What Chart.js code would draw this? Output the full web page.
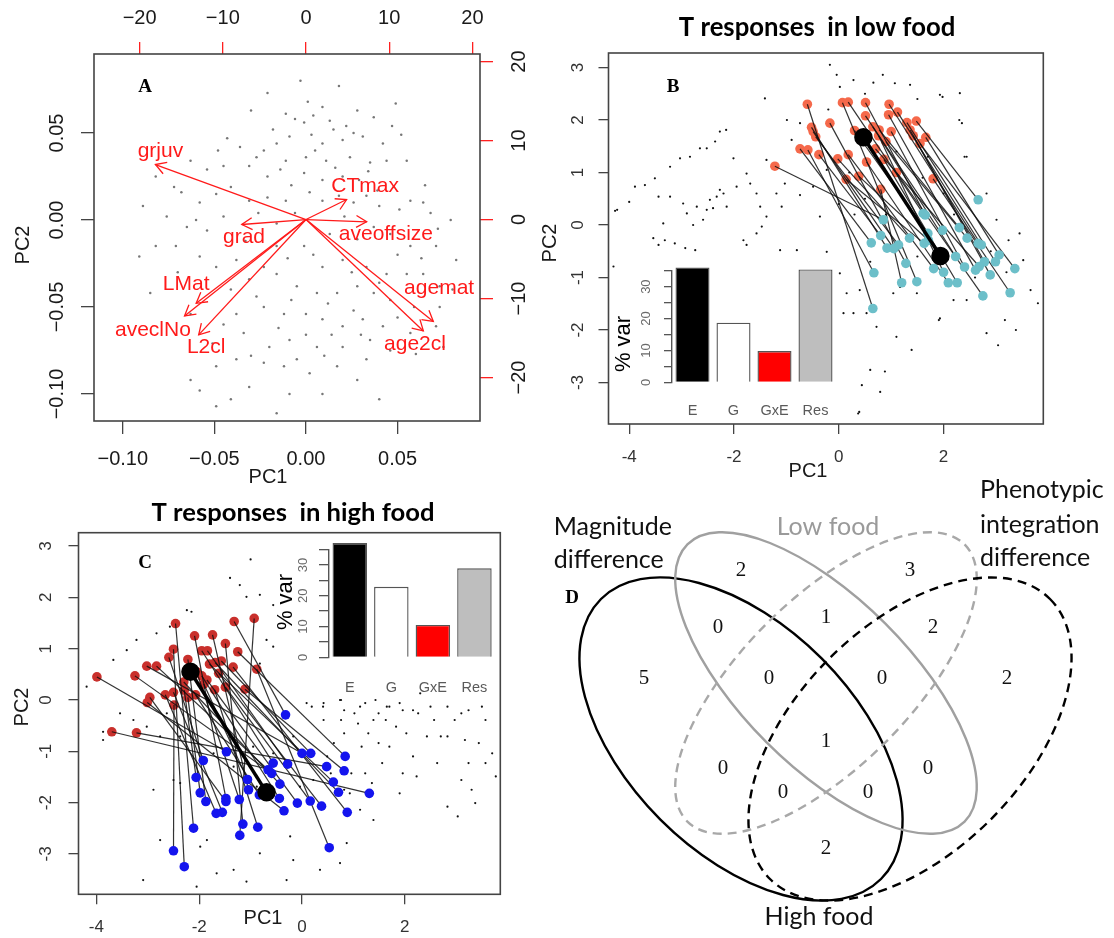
<!DOCTYPE html>
<html>
<head>
<meta charset="utf-8">
<script src="https://cdn.jsdelivr.net/npm/chart.js@4.4.1/dist/chart.umd.min.js"></script>
<style>
  body { margin: 0; background: #fff; width: 1114px; height: 938px; position: relative; overflow: hidden; }
  canvas { position: absolute; }
</style>
</head>
<body>
<canvas id="pa" width="540" height="490" style="left:0px;top:0px"></canvas>
<canvas id="pb" width="574" height="490" style="left:540px;top:0px"></canvas>
<canvas id="pc" width="540" height="448" style="left:0px;top:490px"></canvas>
<canvas id="pd" width="574" height="468" style="left:540px;top:470px"></canvas>
<canvas id="ib" width="250" height="190" style="left:600px;top:240px"></canvas>
<canvas id="ic" width="260" height="180" style="left:250px;top:520px"></canvas>
<script>
'use strict'

// ---------- data ----------
// panel A: PC scores (bottom/left axes) and loadings (top/right axes)
const scoresA = [[-0.003,0.080],[0.018,0.077],[0.001,0.068],[0.009,0.065],[0.028,0.063],[0.049,0.067],[-0.021,0.073],[-0.030,0.063],[-0.011,0.061],[-0.001,0.056],[0.013,0.057],[0.022,0.054],[0.037,0.059],[0.047,0.054],[-0.009,0.048],[0.003,0.049],[0.009,0.044],[0.020,0.046],[0.031,0.048],[0.042,0.044],[0.052,0.049],[-0.043,0.047],[-0.036,0.042],[-0.023,0.040],[-0.016,0.044],[-0.011,0.034],[0.000,0.036],[0.011,0.034],[0.024,0.036],[0.035,0.033],[0.044,0.034],[0.055,0.034],[-0.063,0.034],[-0.054,0.029],[-0.045,0.031],[-0.031,0.031],[-0.021,0.025],[-0.014,0.029],[-0.001,0.027],[0.009,0.023],[0.020,0.025],[0.029,0.023],[0.039,0.017],[0.048,0.019],[0.057,0.011],[0.064,0.010],[-0.082,0.025],[-0.072,0.019],[-0.058,0.010],[-0.049,0.015],[-0.041,0.019],[-0.031,0.011],[-0.021,0.013],[-0.011,0.011],[0.009,0.011],[0.026,0.010],[0.040,0.008],[0.051,0.006],[0.068,0.004],[0.079,0.000],[-0.089,0.008],[-0.076,0.002],[-0.065,-0.004],[-0.054,-0.006],[-0.045,0.002],[-0.016,-0.002],[0.013,-0.008],[0.028,-0.011],[0.046,-0.008],[0.057,-0.015],[0.071,-0.015],[0.082,-0.023],[-0.091,-0.021],[-0.082,-0.015],[-0.071,-0.015],[-0.058,-0.021],[-0.049,-0.027],[-0.038,-0.023],[-0.023,-0.027],[-0.016,-0.015],[-0.001,-0.015],[0.009,-0.027],[0.020,-0.023],[0.033,-0.027],[0.044,-0.031],[0.055,-0.031],[0.064,-0.031],[0.073,-0.038],[-0.085,-0.042],[-0.041,-0.040],[-0.031,-0.034],[-0.016,-0.031],[-0.005,-0.038],[0.006,-0.042],[0.017,-0.042],[0.028,-0.038],[0.037,-0.042],[0.046,-0.046],[0.059,-0.050],[0.073,-0.050],[-0.063,-0.054],[-0.038,-0.054],[-0.023,-0.050],[-0.012,-0.054],[0.000,-0.054],[0.009,-0.057],[0.020,-0.061],[0.031,-0.057],[0.042,-0.061],[0.057,-0.065],[0.071,-0.061],[-0.051,-0.071],[-0.034,-0.065],[-0.020,-0.073],[-0.009,-0.069],[0.006,-0.073],[0.020,-0.073],[0.035,-0.069],[0.046,-0.075],[0.060,-0.077],[0.075,-0.073],[-0.063,-0.092],[-0.049,-0.084],[-0.038,-0.080],[-0.023,-0.082],[-0.012,-0.084],[0.002,-0.088],[0.017,-0.084],[0.028,-0.092],[0.040,-0.103],[-0.058,-0.098],[-0.031,-0.096],[-0.009,-0.100],[0.009,-0.100],[-0.049,-0.107],[-0.041,-0.103],[-0.016,-0.111],[-0.006,0.058],[0.004,0.060],[0.015,0.052],[0.026,0.050],[-0.018,0.052],[-0.027,0.036],[0.005,0.040],[0.016,0.030],[0.034,0.028],[-0.008,0.020],[0.002,0.016],[0.018,0.014],[0.033,0.014],[-0.026,0.004],[-0.006,0.004],[0.021,0.002],[0.037,-0.004],[0.050,-0.020],[0.063,-0.022],[-0.033,-0.012],[-0.010,-0.022],[0.004,-0.020],[0.025,-0.030],[0.040,-0.036],[-0.027,-0.044],[-0.008,-0.046],[0.012,-0.048],[0.026,-0.052],[0.050,-0.056],[-0.045,-0.060],[-0.015,-0.062],[0.000,-0.066],[0.014,-0.066],[0.030,-0.066],[-0.030,-0.078],[-0.005,-0.080],[0.010,-0.078],[0.033,-0.080],[-0.070,-0.030],[-0.060,0.000],[-0.068,0.016],[-0.048,0.040],[0.065,0.020],[0.072,-0.005],[0.080,-0.040]];
const loadNames = ['grjuv', 'CTmax', 'aveoffsize', 'grad', 'LMat', 'aveclNo', 'L2cl', 'agemat', 'age2cl'];
const loadX = [-18.1, 4.88, 7.29, -7.72, -13.2, -14.6, -12.9, 15.3, 14.1];
const loadY = [6.96, 2.53, -0.29, -0.63, -10.6, -12.2, -14.6, -12.9, -14.1];
const loadLabX = [-17.5, 7.1, 9.6, -7.45, -14.4, -18.4, -12.0, 16.0, 13.1];
const loadLabY = [8.65, 4.2, -1.9, -2.3, -8.2, -14.0, -16.1, -8.7, -15.8];
const ticksScore = [-0.10, -0.05, 0, 0.05];
const ticksLoad = [-20, -10, 0, 10, 20];

// panels B and C
const ticksPC1 = [-4, -2, 0, 2];
const ticksPC2 = [-3, -2, -1, 0, 1, 2, 3];

const dotsLow = [[-4.27,0.27],[-4.00,0.44],[-3.89,0.73],[-3.70,0.76],[-3.51,0.89],[-3.44,0.54],[-3.22,0.54],[-3.22,1.11],[-3.03,1.27],[-2.84,1.30],[-2.65,1.46],[-2.52,1.46],[-2.36,1.59],[-2.27,1.78],[-2.15,1.81],[-2.01,1.27],[-2.97,0.41],[-2.90,0.22],[-2.71,0.35],[-2.52,0.29],[-2.40,0.32],[-2.33,0.54],[-2.20,0.60],[-2.14,0.35],[-2.59,0.10],[-2.78,0.00],[-3.35,0.03],[-3.32,-0.29],[-3.54,-0.25],[-3.44,-0.38],[-3.13,-0.35],[-2.93,-0.44],[-2.74,-0.48],[-1.82,-0.29],[-1.76,-0.38],[-1.57,-0.16],[-1.47,-0.03],[-1.38,0.16],[-1.50,0.35],[-1.57,0.60],[-1.76,0.98],[-1.69,0.79],[-1.95,0.73],[-2.27,0.67],[-2.46,0.48],[-1.38,1.24],[-1.19,0.60],[-1.09,0.35],[-1.03,0.79],[-0.99,2.00],[-1.41,2.41],[-0.74,1.94],[-0.90,1.62],[-1.12,-0.48],[-0.80,-0.48],[-0.23,-0.51],[-0.36,0.16],[-0.74,0.57],[-0.49,0.73],[-0.23,1.05],[-0.17,3.05],[-0.04,2.86],[0.02,2.63],[0.28,2.76],[0.66,2.71],[0.84,2.86],[1.07,2.70],[1.36,2.67],[1.93,2.48],[2.31,2.51],[2.35,1.94],[2.44,1.30],[2.82,0.60],[3.01,0.10],[0.02,-0.92],[0.15,-1.30],[0.09,-1.68],[0.28,-1.68],[0.53,-1.68],[0.72,-1.94],[0.40,-1.24],[1.04,-1.30],[1.17,-1.18],[1.39,-2.38],[0.88,-2.79],[0.79,-3.18],[0.44,-3.05],[0.60,-2.76],[0.39,-3.56],[1.10,-2.13],[1.93,-1.78],[2.19,-1.43],[2.44,-1.43],[2.82,-2.06],[3.04,-2.29],[1.49,-1.30],[3.66,-1.24],[3.80,-1.49],[3.38,-2.00],[3.17,-1.81],[3.45,-0.16],[3.24,-0.29],[3.52,-0.67],[2.30,2.00],[2.40,1.30],[1.98,2.44],[1.91,-1.81],[0.37,-3.59],[-4.23,0.29],[-4.30,-0.79],[0.2,1.0],[0.5,0.5],[0.9,0.2],[1.3,0.4],[1.6,0.9],[2.0,0.6],[2.2,0.2],[0.3,0.2],[1.1,1.4],[1.7,1.3],[2.6,-1.0],[2.9,-0.5],[3.2,-0.9],[1.5,-0.6],[0.6,-0.7],[0.0,0.4],[-0.4,1.7],[-0.2,2.2],[0.5,2.5],[1.5,2.4]];
const lowFrom = [[-1.22,1.12],[-0.74,1.45],[-0.59,1.43],[-0.60,2.30],[-0.52,1.86],[-0.49,1.78],[-0.44,1.68],[-0.38,1.34],[-0.17,1.94],[-0.02,1.26],[0.07,2.33],[0.14,0.87],[0.18,2.34],[0.18,1.34],[0.30,1.80],[0.38,0.93],[0.51,2.33],[0.51,2.08],[0.53,1.20],[0.65,1.87],[0.76,1.70],[0.77,1.81],[0.80,0.68],[0.86,1.25],[0.90,1.59],[0.95,2.10],[0.96,2.30],[1.00,1.78],[1.10,1.00],[1.12,2.15],[1.36,1.81],[1.42,1.70],[1.48,1.98],[1.66,1.67],[1.80,0.88],[1.30,1.95],[1.55,1.55],[0.70,1.45]];
const lowTo = [[0.85,0.10],[0.62,-0.34],[0.67,-0.91],[0.65,-1.59],[0.92,-0.44],[1.05,-0.45],[1.14,-0.38],[0.80,-0.20],[1.28,-0.73],[1.35,-0.25],[1.49,-1.08],[1.63,-0.35],[1.61,0.22],[1.81,-0.83],[1.70,-0.16],[1.71,-0.29],[1.65,0.19],[1.98,-0.10],[2.09,-1.10],[2.23,-0.60],[2.00,-0.90],[2.30,-0.05],[1.20,-1.10],[2.26,-1.10],[2.45,-0.25],[2.61,-0.86],[2.66,-0.35],[2.40,-0.80],[2.75,-1.35],[2.72,-0.38],[2.78,-0.70],[2.89,-0.95],[2.66,0.48],[3.06,-0.57],[3.27,-1.29],[2.99,-0.70],[3.36,-0.83],[2.68,-0.79]];
const lowMean = [[0.47,1.67],[1.94,-0.59]];

const dotsHigh = [[0.19,-0.13],[0.42,-0.06],[0.76,0.0],[0.82,-0.20],[1.02,-0.26],[1.23,-0.06],[1.43,0.0],[1.49,-0.26],[1.70,-0.13],[1.90,-0.06],[1.96,-0.20],[2.16,-0.20],[2.30,0.13],[2.26,-0.26],[2.50,-0.13],[2.57,-0.39],[2.83,-0.13],[2.97,-0.39],[3.10,-0.26],[3.24,-0.20],[3.50,-0.13],[3.57,-0.39],[2.83,-0.71],[2.70,-0.71],[3.17,-0.78],[3.44,-0.84],[3.57,-1.23],[3.70,-1.04],[3.77,-1.49],[3.24,-1.23],[3.10,-1.56],[3.30,-1.75],[3.37,-2.01],[2.83,-2.08],[3.03,-2.27],[2.16,-1.10],[1.96,-1.43],[1.90,-1.82],[2.23,-1.49],[2.63,-1.23],[1.09,-0.46],[1.29,-0.65],[1.49,-0.84],[1.16,-0.91],[1.56,-1.23],[1.23,-1.43],[0.82,-0.65],[0.62,-0.84],[0.49,-1.10],[0.96,-1.43],[0.82,-1.75],[1.36,-1.62],[1.83,-0.52],[2.03,-0.65],[2.43,-0.71],[1.63,-0.39],[0.76,-0.39],[0.42,-0.39],[0.56,-1.43],[1.70,-0.91],[-4.19,0.26],[-3.87,-0.62],[-3.67,0.78],[-3.41,0.97],[-3.22,1.17],[-2.83,1.30],[-2.57,1.43],[-2.24,1.75],[-2.15,1.72],[-1.21,2.24],[-1.08,2.01],[-0.82,2.05],[-0.56,1.85],[-0.69,1.17],[-0.56,1.04],[-0.82,0.71],[-3.54,-0.26],[-3.28,-0.39],[-3.02,-0.52],[-2.76,-0.71],[-3.87,-0.78],[-2.50,-1.56],[-2.37,-1.62],[-2.89,-1.75],[-2.76,-2.73],[-1.98,-2.86],[-1.85,-2.73],[-1.66,-3.38],[-3.09,-3.51],[-1.33,-3.31],[-0.82,-2.99],[-0.23,-2.66],[-0.17,-3.12],[0.35,-3.31],[0.74,-3.18],[0.87,-2.79],[1.39,-2.34],[1.13,-2.14],[0.93,-1.82],[0.87,-1.36],[0.22,-1.56],[-0.04,-1.69],[-0.56,-1.04],[-0.17,-0.71],[0.09,-0.06],[0.41,-0.13],[0.74,0.0],[1.13,-0.13],[1.39,-0.39],[1.65,-0.13],[-2.05,-3.64],[-0.30,-3.51],[-1.08,-3.54],[-1.72,-1.04],[-1.33,-1.30],[-0.95,-0.91],[-2.63,-0.26],[-2.37,-0.71],[-0.88,-1.69],[-1.00,2.74],[-1.40,2.38]];
const highFrom = [[-2.46,1.49],[-2.09,1.25],[-1.74,1.27],[-1.32,1.53],[-0.93,1.59],[-1.49,1.10],[-1.25,0.94],[-2.50,0.99],[-2.59,0.83],[-1.95,0.96],[-1.84,0.96],[-2.22,0.79],[-3.02,0.66],[-2.83,0.66],[-3.25,0.47],[-3.99,0.45],[-1.80,0.70],[-1.69,0.73],[-1.57,0.76],[-1.34,0.64],[-1.62,0.52],[-0.88,0.60],[-1.95,0.47],[-1.85,0.39],[-1.91,0.31],[-2.29,0.19],[-2.22,0.05],[-2.07,0.10],[-2.66,0.10],[-2.50,0.15],[-2.96,0.05],[-3.01,-0.05],[-2.49,-0.10],[-1.49,0.25],[-1.11,0.21],[-3.70,-0.62],[-3.22,-0.64],[-2.30,0.35],[-1.70,0.20],[-2.05,0.55]];
const highTo = [[-2.11,-2.50],[-1.48,-1.92],[-1.04,-1.75],[-0.32,-0.29],[-1.21,-2.64],[-1.15,-2.42],[0.84,-1.10],[-2.29,-3.25],[-1.92,-1.18],[-0.56,-1.23],[-0.28,-1.25],[-1.87,-1.98],[0.00,-1.04],[-0.66,-1.36],[-0.59,-1.43],[-1.47,-1.01],[0.61,-1.60],[0.71,-1.80],[0.17,-1.04],[0.88,-2.19],[0.38,-2.07],[0.53,-2.88],[-0.44,-1.92],[-0.09,-2.01],[-1.06,-1.55],[-2.06,-1.51],[-1.98,-1.81],[-0.83,-1.85],[-1.67,-2.21],[-1.55,-2.19],[-1.48,-1.98],[-0.35,-2.16],[-2.50,-2.94],[0.16,-1.97],[0.82,-1.38],[1.31,-1.82],[0.48,-1.30],[-0.43,-1.64],[-0.86,-2.48],[-1.22,-1.94]];
const highMean = [[-2.17,0.55],[-0.69,-1.80]];

// inset bars: % variance
const varCats = ['E', 'G', 'GxE', 'Res'];
const varLow = [36.0, 18.7, 9.8, 35.4];
const varHigh = [37.1, 22.9, 10.5, 28.9];
const varTicks = [0, 5, 10, 15, 20, 25, 30, 35];
const varLabels = [0, 10, 20, 30];

// panel D: counts per Venn region
const vennCounts = [2, 3, 0, 1, 2, 5, 0, 0, 2, 1, 0, 0, 0, 0, 2];
const vennX = [741, 910, 718, 826, 933, 644, 769, 882, 1007, 826, 723, 928, 783, 868, 826];
const vennY = [570, 570, 627, 617, 627, 678, 678, 678, 678, 741, 768, 768, 792, 792, 848];

// ---------- helpers ----------
const SANS = '"Liberation Sans", Arial, sans-serif';
const SERIF = '"Liberation Serif", "Times New Roman", serif';
const CAL = 'Lato, "Open Sans", sans-serif';

function fitFont(ctx, text, weight, family, w) {
  ctx.save();
  ctx.font = weight + ' 100px ' + family;
  const s = 100 * w / ctx.measureText(text).width;
  ctx.restore();
  return weight + ' ' + s.toFixed(1) + 'px ' + family;
}

function put(ctx, s, x, y, font, color, rot, align) {
  ctx.save();
  ctx.font = font;
  ctx.fillStyle = color || '#000';
  ctx.textAlign = align || 'center';
  ctx.textBaseline = 'middle';
  ctx.translate(x, y);
  if (rot) ctx.rotate(rot);
  ctx.fillText(s, 0, 0);
  ctx.restore();
}

// tick labels of a scale, placed at a fixed page offset
function tickText(chart, id, vals, at, o) {
  const s = chart.scales[id];
  vals.forEach(v => {
    const p = s.getPixelForValue(v);
    const t = o.fmt ? o.fmt(v) : String(v);
    if (s.isHorizontal()) put(chart.ctx, t, p, at - o.oy, o.font, o.color);
    else put(chart.ctx, t, at - o.ox, p, o.font, o.color, -Math.PI / 2);
  });
}

function box(chart, color, lw) {
  const a = chart.chartArea, ctx = chart.ctx;
  ctx.save();
  ctx.strokeStyle = color;
  ctx.lineWidth = lw;
  ctx.strokeRect(a.left, a.top, a.right - a.left, a.bottom - a.top);
  ctx.restore();
}

function axis(pos, min, max, ticks, size, color, tl, extra) {
  return Object.assign({
    type: 'linear', position: pos, min: min, max: max,
    afterBuildTicks: s => { s.ticks = ticks.map(v => ({ value: v })); },
    afterFit: s => { if (s.isHorizontal()) s.height = size; else s.width = size; },
    ticks: { display: false },
    grid: { drawOnChartArea: false, drawTicks: true, tickLength: tl, color: color, lineWidth: 1.3 },
    border: { display: false }
  }, extra || {});
}

const pts = a => a.map(p => ({ x: p[0], y: p[1] }));
const baseOpts = { responsive: false, animation: false, events: [],
  plugins: { legend: { display: false }, tooltip: { enabled: false } } };

// ---------- panel A ----------
const minusFmt = d => v => v.toFixed(d).replace('-', '\u2212');
new Chart(document.getElementById('pa'), {
  type: 'scatter',
  data: {
    datasets: [
      { data: pts(scoresA), pointRadius: 1.25, backgroundColor: '#777', borderWidth: 0, order: 2 }
    ].concat(loadX.map((lx, i) => ({
      data: [{ x: 0, y: 0 }, { x: lx, y: loadY[i] }], xAxisID: 'x2', yAxisID: 'y2',
      showLine: true, borderColor: '#ff1a1a', borderWidth: 1.3, pointRadius: 0, order: 1
    })))
  },
  options: Object.assign({}, baseOpts, {
    layout: { padding: 0 },
    scales: {
      x: axis('bottom', -0.1157, 0.0950, ticksScore, 490 - 421, '#444', 13),
      y: axis('left', -0.1155, 0.0954, ticksScore, 94, '#444', 13),
      x2: axis('top', -25.48, 20.91, ticksLoad, 54, '#ff2020', 12),
      y2: axis('right', -25.5, 20.95, ticksLoad, 60, '#ff2020', 13)
    }
  }),
  plugins: [{
    id: 'decoA',
    afterDraw(chart) {
      const ctx = chart.ctx, o = { ox: 0, oy: 0, font: '20px ' + SANS, color: '#1a1a1a' };
      box(chart, '#444', 1.6);
      tickText(chart, 'x', ticksScore, 459, Object.assign({ fmt: minusFmt(2) }, o));
      tickText(chart, 'y', ticksScore, 57, Object.assign({ fmt: minusFmt(2) }, o));
      tickText(chart, 'x2', ticksLoad, 18, Object.assign({ fmt: minusFmt(0) }, o));
      tickText(chart, 'y2', ticksLoad, 519, Object.assign({ fmt: minusFmt(0) }, o));
      put(ctx, 'PC1', 268, 477, '20px ' + SANS, '#1a1a1a');
      put(ctx, 'PC2', 23, 245, '20px ' + SANS, '#1a1a1a', -Math.PI / 2);
      put(ctx, 'A', 145, 87, 'bold 19px ' + SERIF, '#000');
      const sx = chart.scales.x2, sy = chart.scales.y2;
      const x0 = sx.getPixelForValue(0), y0 = sy.getPixelForValue(0);
      ctx.save();
      ctx.strokeStyle = '#ff1a1a';
      ctx.lineWidth = 1.3;
      loadX.forEach((lx, i) => {
        const x1 = sx.getPixelForValue(lx), y1 = sy.getPixelForValue(loadY[i]);
        const ang = Math.atan2(y1 - y0, x1 - x0), L = 12, h = Math.PI / 6;
        ctx.beginPath();
        ctx.moveTo(x1 - L * Math.cos(ang - h), y1 - L * Math.sin(ang - h));
        ctx.lineTo(x1, y1);
        ctx.lineTo(x1 - L * Math.cos(ang + h), y1 - L * Math.sin(ang + h));
        ctx.stroke();
        put(ctx, loadNames[i], sx.getPixelForValue(loadLabX[i]), sy.getPixelForValue(loadLabY[i]), '21px ' + SANS, '#ff1a1a');
      });
      ctx.restore();
    }
  }]
});

// ---------- panels B and C ----------
function pcaPanel(id, c) {
  const a = c.area;
  return new Chart(document.getElementById(id), {
    type: 'scatter',
    data: {
      datasets: [
        { data: pts(c.mean), showLine: true, borderColor: '#000', borderWidth: 3.5,
          pointRadius: 7.5, backgroundColor: '#000', borderJoinStyle: 'round', order: 0 },
        { data: pts(c.to), pointRadius: 4.8, backgroundColor: c.colTo, borderWidth: 0, order: 1 }
      ].concat(c.from.map((s, i) => ({
        data: pts([s, c.to[i]]), showLine: true, borderColor: 'rgba(15,15,15,0.85)',
        borderWidth: 1.2, pointRadius: 0, order: 2
      }))).concat([
        { data: pts(c.from), pointRadius: 4.8, backgroundColor: c.colFrom, borderWidth: 0, order: 3 },
        { data: pts(c.dots), pointRadius: 1.1, backgroundColor: '#111', borderWidth: 0, order: 4 }
      ])
    },
    options: Object.assign({}, baseOpts, {
      layout: { padding: { top: a[1] - c.oy, right: c.ox + c.w - a[2], left: 0, bottom: 0 } },
      scales: {
        x: axis('bottom', c.xr[0], c.xr[1], ticksPC1, c.oy + c.h - a[3], '#444', 10),
        y: axis('left', c.yr[0], c.yr[1], ticksPC2, a[0] - c.ox, '#444', 10)
      }
    }),
    plugins: [{
      id: 'deco' + id,
      afterDraw(chart) {
        const ctx = chart.ctx, o = { ox: c.ox, oy: c.oy, font: '17px ' + SANS, color: '#333' };
        box(chart, '#444', 1.6);
        tickText(chart, 'x', ticksPC1, c.xLab, o);
        tickText(chart, 'y', ticksPC2, c.yLab, o);
        put(ctx, c.title, c.titleXY[0] - c.ox, c.titleXY[1] - c.oy,
          fitFont(ctx, c.title, 'bold', CAL, c.titleW), '#000');
        put(ctx, c.tag, c.tagXY[0] - c.ox, c.tagXY[1] - c.oy, 'bold 19px ' + SERIF, '#000');
        put(ctx, 'PC1', c.pc1[0] - c.ox, c.pc1[1] - c.oy, '20px ' + SANS, '#1a1a1a');
        put(ctx, 'PC2', c.pc2[0] - c.ox, c.pc2[1] - c.oy, '20px ' + SANS, '#1a1a1a', -Math.PI / 2);
      }
    }]
  });
}

pcaPanel('pb', {
  ox: 540, oy: 0, w: 574, h: 490, area: [608.5, 53, 1043.3, 424],
  xr: [-4.395, 3.903], yr: [-3.790, 3.276],
  dots: dotsLow, from: lowFrom, to: lowTo, mean: lowMean,
  colFrom: '#f5694b', colTo: '#6cbfc9',
  xLab: 457, yLab: 578.5,
  title: 'T responses  in low food', titleXY: [817, 28], titleW: 277,
  tag: 'B', tagXY: [673, 87], pc1: [808, 471], pc2: [550, 243]
});

pcaPanel('pc', {
  ox: 0, oy: 490, w: 540, h: 448, area: [78.5, 532.7, 500.3, 894.3],
  xr: [-4.348, 3.858], yr: [-3.788, 3.261],
  dots: dotsHigh, from: highFrom, to: highTo, mean: highMean,
  colFrom: '#c9302c', colTo: '#1414ee',
  xLab: 927, yLab: 46.5,
  title: 'T responses  in high food', titleXY: [293, 513], titleW: 283,
  tag: 'C', tagXY: [145, 563], pc1: [263, 918], pc2: [22, 707]
});

// ---------- inset bar charts ----------
function varInset(id, c) {
  return new Chart(document.getElementById(id), {
    type: 'bar',
    data: {
      labels: varCats,
      datasets: [{ data: c.vals, backgroundColor: ['#000000', '#ffffff', '#ff0000', '#bebebe'],
        borderColor: '#555', borderWidth: 1.4, barPercentage: 0.83, categoryPercentage: 1, clip: false }]
    },
    options: Object.assign({}, baseOpts, {
      layout: { padding: { top: c.area[1] - c.oy, right: c.ox + c.w - c.area[2], left: 0, bottom: 0 } },
      scales: {
        x: { grid: { display: false }, ticks: { display: false }, border: { display: false },
          afterFit: s => { s.height = c.oy + c.h - c.area[3]; } },
        y: { min: 0, max: 35,
          afterBuildTicks: s => { s.ticks = varTicks.map(v => ({ value: v })); },
          afterFit: s => { s.width = c.area[0] - c.ox; },
          ticks: { display: false },
          grid: { drawOnChartArea: false, drawTicks: true, tickLength: c.tl, color: '#555', lineWidth: 1.3 },
          border: { display: true, color: '#555', width: 1.4 } }
      }
    }),
    plugins: [{
      id: 'var' + id,
      afterDraw(chart) {
        const ctx = chart.ctx, sx = chart.scales.x;
        tickText(chart, 'y', varLabels, c.tickX, { ox: c.ox, oy: c.oy, font: '13px ' + SANS, color: '#6a6a6a' });
        varCats.forEach((k, i) => put(ctx, k, sx.getPixelForValue(i), c.catY - c.oy, '14.5px ' + SANS, '#5a5a5a'));
        put(ctx, '% var', c.varXY[0] - c.ox, c.varXY[1] - c.oy, '22px ' + SANS, '#000', -Math.PI / 2);
      }
    }]
  });
}

varInset('ib', { ox: 600, oy: 240, w: 250, h: 190, area: [672, 270.7, 836, 382.3], vals: varLow,
  tl: 8, tickX: 646.5, catY: 411, varXY: [624, 344] });
varInset('ic', { ox: 250, oy: 520, w: 260, h: 180, area: [329, 549.5, 495.2, 657.3], vals: varHigh,
  tl: 10, tickX: 303, catY: 687.5, varXY: [286, 602] });

// ---------- panel D: Venn ----------
// ellipse layout in page pixels: cx, cy, semi-major, semi-minor, angle, colour, dash
const vennShapes = [
  [741, 739, 198, 114, 45, '#000', []],
  [826, 683, 196, 84, 45, '#a0a0a0', []],
  [826, 683, 196, 84, -45, '#a8a8a8', [9, 6]],
  [910, 739, 198, 114, -45, '#000', [9, 6]]
];

new Chart(document.getElementById('pd'), {
  type: 'scatter',
  data: { datasets: [{ data: vennX.map((x, i) => ({ x: x, y: vennY[i] })), pointRadius: 0 }] },
  options: Object.assign({}, baseOpts, {
    layout: { padding: 0 },
    scales: {
      x: { type: 'linear', display: false, min: 540, max: 1114 },
      y: { type: 'linear', display: false, min: 470, max: 938, reverse: true }
    }
  }),
  plugins: [{
    id: 'venn',
    afterDatasetsDraw(chart) {
      const ctx = chart.ctx, sx = chart.scales.x, sy = chart.scales.y;
      ctx.save();
      vennShapes.forEach(e => {
        ctx.beginPath();
        ctx.strokeStyle = e[5];
        ctx.lineWidth = 2.4;
        ctx.setLineDash(e[6]);
        ctx.ellipse(sx.getPixelForValue(e[0]), sy.getPixelForValue(e[1]), e[2], e[3], e[4] * Math.PI / 180, 0, 2 * Math.PI);
        ctx.stroke();
      });
      ctx.restore();
      const meta = chart.getDatasetMeta(0);
      meta.data.forEach((el, i) => put(ctx, String(vennCounts[i]), el.x, el.y, '21px ' + SERIF, '#111'));
      const f = fitFont(ctx, 'Phenotypic', '400', CAL, 124);
      const X = v => sx.getPixelForValue(v), Y = v => sy.getPixelForValue(v);
      put(ctx, 'Phenotypic', X(980), Y(490), f, '#111', 0, 'left');
      put(ctx, 'integration', X(980), Y(525), f, '#111', 0, 'left');
      put(ctx, 'difference', X(980), Y(558), f, '#111', 0, 'left');
      put(ctx, 'Magnitude', X(672), Y(527), f, '#111', 0, 'right');
      ctx.font = f;
      const mw = ctx.measureText('Magnitude').width;
      put(ctx, 'difference', X(672) - mw, Y(560), f, '#111', 0, 'left');
      put(ctx, 'Low food', X(828), Y(527), f, '#9a9a9a');
      put(ctx, 'High food', X(819), Y(917), f, '#111');
      put(ctx, 'D', X(572), Y(598), 'bold 19px ' + SERIF, '#000');
    }
  }]
});
</script>
</body>
</html>
